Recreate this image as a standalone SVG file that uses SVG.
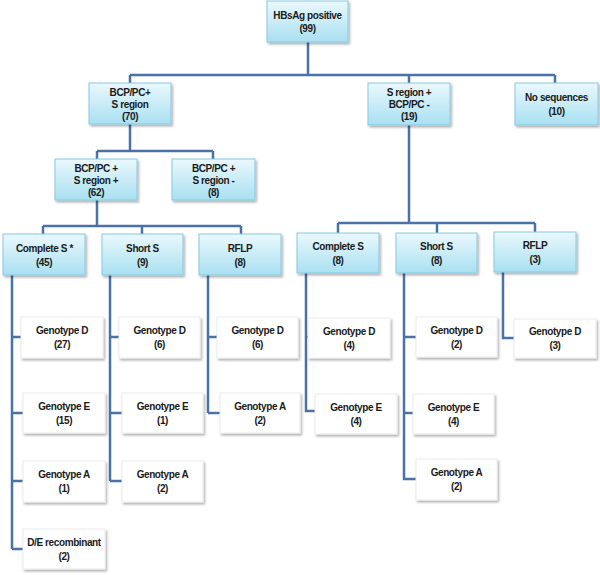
<svg xmlns="http://www.w3.org/2000/svg" width="600" height="575" viewBox="0 0 600 575">
<defs>
<linearGradient id="bg" x1="0" y1="0" x2="0" y2="1">
<stop offset="0" stop-color="#eaf8fd"/>
<stop offset="1" stop-color="#a9e0f1"/>
</linearGradient>
<filter id="sh" x="-10%" y="-10%" width="125%" height="135%">
<feDropShadow dx="1.5" dy="2" stdDeviation="1.2" flood-color="#000" flood-opacity="0.3"/>
</filter>
</defs>
<style>
.b{fill:url(#bg);stroke:#86c9e2;stroke-width:1;filter:url(#sh)}
.w{fill:#fff;stroke:#ececec;stroke-width:1;filter:url(#sh)}
text{font-family:"Liberation Sans",Arial,sans-serif;font-weight:bold;font-size:10px;letter-spacing:-0.4px;fill:#1a1a1a;text-anchor:middle}
.c{fill:none;stroke:#4a72a8;stroke-width:2.5}
</style>
<rect width="600" height="575" fill="#fff"/>
<g id="connectors" class="c">
<path d="M308,42V75M130,75H555M130,75V83M409,75V83M555,75V83"/>
<path d="M130,124V151M97,151H213M97,151V159M213,151V159"/>
<path d="M97,200V226M43,226H241M43,226V234M142,226V234M241,226V234"/>
<path d="M409,125V223M338,223H535M338,223V233M437,223V233M535,223V232"/>
<path d="M12,275V549M12,337H21M12,413H23M12,481H23M12,549H23"/>
<path d="M110,275V481M110,337H119M110,413H122M110,481H122"/>
<path d="M208,275V413M208,337H217M208,413H220"/>
<path d="M306,273V411H315M306,337H308"/>
<path d="M404,273V479H416M404,337H416M404,413H413"/>
<path d="M503,272V338H514"/>
</g>
<g id="hbsag"><rect class="b" x="267" y="1" width="81" height="41"/><text x="307.5" y="18.5">HBsAg positive</text><text x="307.5" y="31.5">(99)</text></g>
<g id="bcp70"><rect class="b" x="89" y="83" width="82" height="41"/><text x="130" y="95.5">BCP/PC+</text><text x="130" y="107.5">S region</text><text x="130" y="119.5">(70)</text></g>
<g id="sreg19"><rect class="b" x="368" y="83" width="82" height="42"/><text x="409" y="95.5">S region +</text><text x="409" y="107.5">BCP/PC -</text><text x="409" y="119.5">(19)</text></g>
<g id="noseq"><rect class="b" x="515" y="83" width="83" height="42"/><text x="556.5" y="100.5">No sequences</text><text x="556.5" y="114.5">(10)</text></g>
<g id="bcp62"><rect class="b" x="55" y="159" width="82" height="41"/><text x="96" y="171.5">BCP/PC +</text><text x="96" y="183.5">S region +</text><text x="96" y="195.5">(62)</text></g>
<g id="bcp8"><rect class="b" x="172" y="159" width="83" height="41"/><text x="213.5" y="171.5">BCP/PC +</text><text x="213.5" y="183.5">S region -</text><text x="213.5" y="195.5">(8)</text></g>
<g id="cs45"><rect class="b" x="3" y="234" width="82" height="41"/><text x="44.5" y="251.5">Complete S *</text><text x="44" y="265.5">(45)</text></g>
<g id="ss9"><rect class="b" x="102" y="234" width="81" height="41"/><text x="142.5" y="251.5">Short S</text><text x="142.5" y="265.5">(9)</text></g>
<g id="rflp8"><rect class="b" x="199" y="234" width="82" height="41"/><text x="240" y="251.5">RFLP</text><text x="240" y="265.5">(8)</text></g>
<g id="cs8"><rect class="b" x="297" y="233" width="82" height="40"/><text x="338" y="250">Complete S</text><text x="338" y="264">(8)</text></g>
<g id="ss8"><rect class="b" x="396" y="233" width="81" height="40"/><text x="436.5" y="250">Short S</text><text x="436.5" y="264">(8)</text></g>
<g id="rflp3"><rect class="b" x="494" y="232" width="82" height="40"/><text x="535" y="249">RFLP</text><text x="535" y="263">(3)</text></g>
<g id="gd27"><rect class="w" x="21" y="317" width="82" height="41"/><text x="62" y="334">Genotype D</text><text x="62" y="348">(27)</text></g>
<g id="ge15"><rect class="w" x="23" y="393" width="82" height="40"/><text x="64" y="410">Genotype E</text><text x="64" y="424">(15)</text></g>
<g id="ga1"><rect class="w" x="23" y="461" width="82" height="41"/><text x="64" y="478">Genotype A</text><text x="64" y="492">(1)</text></g>
<g id="de2"><rect class="w" x="23" y="529" width="82" height="40"/><text x="64" y="546">D/E recombinant</text><text x="64" y="560">(2)</text></g>
<g id="gd6"><rect class="w" x="119" y="317" width="81" height="41"/><text x="159.5" y="334">Genotype D</text><text x="159.5" y="348">(6)</text></g>
<g id="ge1"><rect class="w" x="122" y="393" width="81" height="40"/><text x="162.5" y="410">Genotype E</text><text x="162.5" y="424">(1)</text></g>
<g id="ga2s"><rect class="w" x="122" y="461" width="81" height="41"/><text x="162.5" y="478">Genotype A</text><text x="162.5" y="492">(2)</text></g>
<g id="gd6r"><rect class="w" x="217" y="317" width="81" height="41"/><text x="257.5" y="334">Genotype D</text><text x="257.5" y="348">(6)</text></g>
<g id="ga2r"><rect class="w" x="220" y="393" width="80" height="40"/><text x="260" y="410">Genotype A</text><text x="260" y="424">(2)</text></g>
<g id="gd4"><rect class="w" x="308" y="318" width="82" height="40"/><text x="349" y="334.5">Genotype D</text><text x="349" y="348.5">(4)</text></g>
<g id="ge4"><rect class="w" x="315" y="394" width="82" height="40"/><text x="356" y="410.5">Genotype E</text><text x="356" y="424.5">(4)</text></g>
<g id="gd2"><rect class="w" x="416" y="317" width="81" height="40"/><text x="456.5" y="333.5">Genotype D</text><text x="456.5" y="347.5">(2)</text></g>
<g id="ge4s"><rect class="w" x="413" y="394" width="81" height="40"/><text x="453.5" y="410.5">Genotype E</text><text x="453.5" y="424.5">(4)</text></g>
<g id="ga2"><rect class="w" x="416" y="459" width="81" height="41"/><text x="456.5" y="476">Genotype A</text><text x="456.5" y="490">(2)</text></g>
<g id="gd3"><rect class="w" x="514" y="319" width="82" height="39"/><text x="555" y="335">Genotype D</text><text x="555" y="349">(3)</text></g>
</svg>
